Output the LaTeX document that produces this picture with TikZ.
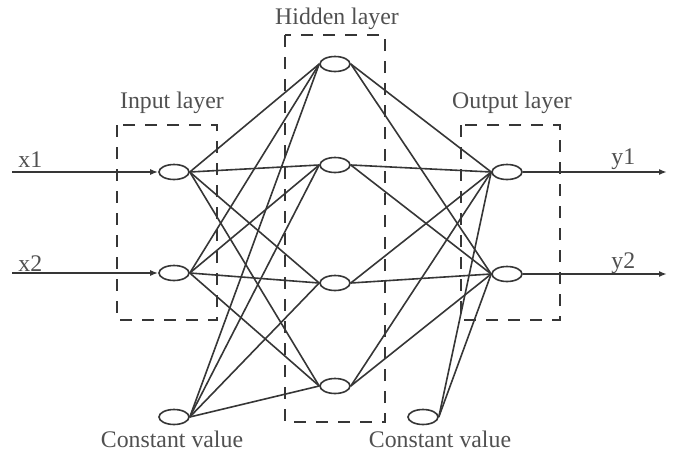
\documentclass[tikz,border=0pt]{standalone}
\usepackage{fontspec}
\setmainfont{Liberation Serif}
\usetikzlibrary{arrows.meta,shapes.geometric}
\definecolor{ink}{HTML}{363636}
\definecolor{labelgray}{HTML}{505050}
\tikzset{
  neuron/.style={
    ellipse,
    draw=ink,
    line width=0.8pt,
    fill=white,
    minimum width=15pt,
    minimum height=7.5pt,
    inner sep=0pt
  },
  link/.style={
    draw=ink,
    line width=0.8pt
  },
  signal/.style={
    link,
    -{Latex[length=4pt,width=3pt]}
  },
  layerbox/.style={
    draw=ink,
    line width=0.85pt,
    dash pattern=on 6pt off 5pt
  },
  labeltext/.style={
    font=\fontsize{11.9}{14}\selectfont,
    text=labelgray,
    inner sep=0pt
  }
}

\begin{document}
\begin{tikzpicture}[x=0.5pt,y=-0.5pt]
  \useasboundingbox (0,0) rectangle (676,450);

  % ============================================================
  % Dashed layer frames
  % ============================================================
  \draw[layerbox] (117,125) rectangle (217,320);
  \draw[layerbox] (285,35) rectangle (385,422);
  \draw[layerbox] (461,125) rectangle (560,320);

  \node[labeltext] (in_hdr)  at (172,103) {Input layer};
  \node[labeltext] (hid_hdr) at (337,19)  {Hidden layer};
  \node[labeltext] (out_hdr) at (512,103) {Output layer};

  % ============================================================
  % Neurons
  % ============================================================
  \node[neuron] (in1) at (174,172) {};
  \node[neuron] (in2) at (174,273) {};

  \node[neuron] (h1) at (335,64)  {};
  \node[neuron] (h2) at (335,165) {};
  \node[neuron] (h3) at (335,283) {};
  \node[neuron] (h4) at (335,386) {};

  \node[neuron] (out1) at (507,172) {};
  \node[neuron] (out2) at (507,274) {};

  % bias units
  \node[neuron] (c1) at (174,417) {};
  \node[neuron] (c2) at (423,417) {};
  \node[labeltext] (c1_lbl) at (172,439) {Constant value};
  \node[labeltext] (c2_lbl) at (440,439) {Constant value};

  % ============================================================
  % Connections
  % ============================================================
  \foreach \src in {in1,in2,c1}
    \foreach \dst in {h1,h2,h3,h4}
      \draw[link] (\src.east) -- (\dst.west);

  \foreach \src in {h1,h2,h3,h4}
    \foreach \dst in {out1,out2}
      \draw[link] (\src.east) -- (\dst.west);

  \foreach \dst in {out1,out2}
    \draw[link] (c2.east) -- (\dst.west);

  % ============================================================
  % Inputs and outputs
  % ============================================================
  \coordinate (x1_start) at (12,172);
  \coordinate (x2_start) at (12,273);
  \coordinate (y1_end) at (667,172);
  \coordinate (y2_end) at (667,274);

  \draw[signal] (x1_start) -- (in1.west);
  \draw[signal] (x2_start) -- (in2.west);
  \draw[signal] (out1.east) -- (y1_end);
  \draw[signal] (out2.east) -- (y2_end);

  \node[labeltext, anchor=base west] (x1_lbl) at (18,167) {x1};
  \node[labeltext, anchor=base west] (x2_lbl) at (18,271) {x2};
  \node[labeltext, anchor=base west] (y1_lbl) at (611,164) {y1};
  \node[labeltext, anchor=base west] (y2_lbl) at (611,268) {y2};

\end{tikzpicture}
\end{document}
